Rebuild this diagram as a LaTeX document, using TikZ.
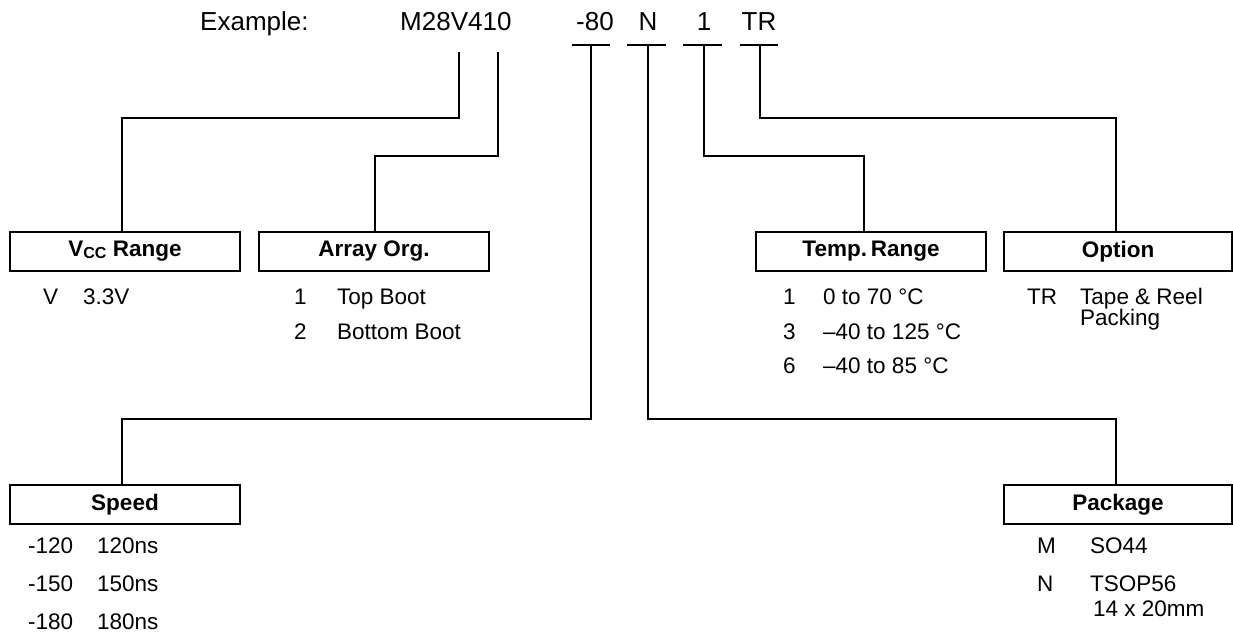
\documentclass[tikz,border=0pt]{standalone}
\usepackage{fontspec}
\setmainfont{Liberation Sans}
\begin{document}
\begin{tikzpicture}[x=1pt,y=-1pt,
  hdr/.style={font=\fontsize{26}{30}\selectfont, inner sep=0pt},
  txt/.style={font=\fontsize{22.5}{26}\selectfont, inner sep=0pt, anchor=base west},
  titlebox/.style={draw, line width=2pt, minimum width=230pt, minimum height=39pt, inner sep=0pt, font=\fontsize{22.5}{26}\selectfont\bfseries},
  conn/.style={line width=2.5pt},
  bar/.style={line width=2.5pt}]
\useasboundingbox (0,0) rectangle (1233,637);

% header texts
\node[hdr, anchor=base west] (ex) at (200,30) {Example:};
\node[hdr, anchor=base west] (pn) at (400,30) {M28V410};
\node[hdr, anchor=base] (s80) at (595,30) {-80};
\node[hdr, anchor=base] (sN) at (648,30) {N};
\node[hdr, anchor=base] (s1) at (704,30) {1};
\node[hdr, anchor=base] (sTR) at (759,30) {TR};

% bars
\coordinate (b80l) at (572,45); \coordinate (b80r) at (610,45);
\coordinate (bNl) at (627,45); \coordinate (bNr) at (666,45);
\coordinate (b1l) at (683,45); \coordinate (b1r) at (722,45);
\coordinate (bTRl) at (740,45); \coordinate (bTRr) at (778,45);
\draw[bar] (b80l) -- (b80r);
\draw[bar] (bNl) -- (bNr);
\draw[bar] (b1l) -- (b1r);
\draw[bar] (bTRl) -- (bTRr);

% connector start points
\coordinate (c1) at (459,52);
\coordinate (c2) at (498,52);
\coordinate (c80) at (591,45);
\coordinate (cN) at (648,45);
\coordinate (c1b) at (704,45);
\coordinate (cTR) at (760,45);

% boxes
\node[titlebox, anchor=north west] (vcc) at (9,231) {V\raisebox{-1.5pt}{\fontsize{16}{18}\selectfont CC} Range};
\node[titlebox, anchor=north west] (arr) at (258,231) {Array Org.};
\node[titlebox, anchor=north west] (temp) at (755,231) {Temp.\,Range};
\node[titlebox, anchor=north west, minimum width=228pt] (opt) at (1003,231) {Option};
\node[titlebox, anchor=north west] (spd) at (9,484) {Speed};
\node[titlebox, anchor=north west, minimum width=228pt] (pkg) at (1003,484) {Package};

% connectors
\draw[conn] (c1) |- (122,118) -- (vcc.north -| 122,0);
\draw[conn] (c2) |- (375,156) -- (arr.north -| 375,0);
\draw[conn] (c80) |- (122,419) -- (spd.north -| 122,0);
\draw[conn] (cN) |- (1116,419) -- (pkg.north -| 1116,0);
\draw[conn] (c1b) |- (864,156) -- (temp.north -| 864,0);
\draw[conn] (cTR) |- (1116,118) -- (opt.north -| 1116,0);

% Vcc entries
\node[txt] (v1a) at (43,304) {V};
\node[txt] (v1b) at (83,304) {3.3V};
% Array entries
\node[txt] (a1a) at (294,304) {1};
\node[txt] (a1b) at (337,304) {Top Boot};
\node[txt] (a2a) at (294,339) {2};
\node[txt] (a2b) at (337,339) {Bottom Boot};
% Temp entries
\node[txt] (t1a) at (783,304) {1};
\node[txt] (t1b) at (823,304) {0 to 70 °C};
\node[txt] (t2a) at (783,339) {3};
\node[txt] (t2b) at (823,339) {–40 to 125 °C};
\node[txt] (t3a) at (783,373) {6};
\node[txt] (t3b) at (823,373) {–40 to 85 °C};
% Option entries
\node[txt] (o1a) at (1027,304) {TR};
\node[txt] (o1b) at (1080,304) {Tape \& Reel};
\node[txt] (o1c) at (1080,325) {Packing};
% Speed entries
\node[txt] (sp1a) at (28,553) {-120};
\node[txt] (sp1b) at (97,553) {120ns};
\node[txt] (sp2a) at (28,591) {-150};
\node[txt] (sp2b) at (97,591) {150ns};
\node[txt] (sp3a) at (28,629) {-180};
\node[txt] (sp3b) at (97,629) {180ns};
% Package entries
\node[txt] (p1a) at (1037,553) {M};
\node[txt] (p1b) at (1090,553) {SO44};
\node[txt] (p2a) at (1037,591) {N};
\node[txt] (p2b) at (1090,591) {TSOP56};
\node[txt] (p2c) at (1093,616) {14 x 20mm};
\end{tikzpicture}
\end{document}
